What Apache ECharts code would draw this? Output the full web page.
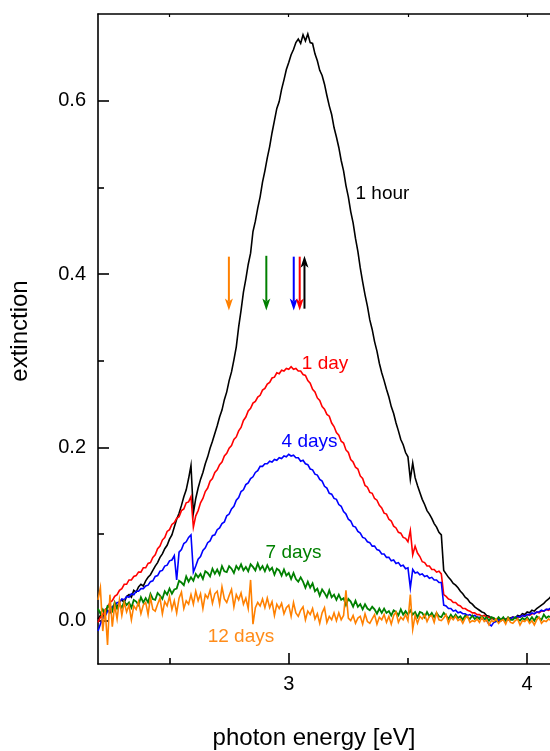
<!DOCTYPE html>
<html><head><meta charset="utf-8">
<script src="https://cdn.jsdelivr.net/npm/echarts@6/dist/echarts.min.js"></script>
<style>html,body{margin:0;padding:0;background:#fff}#c{width:550px;height:751px}</style>
</head><body><div id="c"></div>
<script>
const energy = [
2.20,2.21,2.22,2.23,2.24,2.25,2.26,2.27,2.28,2.29,
2.30,2.31,2.32,2.33,2.34,2.35,2.36,2.37,2.38,2.39,
2.40,2.41,2.42,2.43,2.44,2.45,2.46,2.47,2.48,2.49,
2.50,2.51,2.52,2.53,2.54,2.55,2.56,2.57,2.58,2.59,
2.60,2.61,2.62,2.63,2.64,2.65,2.66,2.67,2.68,2.69,
2.70,2.71,2.72,2.73,2.74,2.75,2.76,2.77,2.78,2.79,
2.80,2.81,2.82,2.83,2.84,2.85,2.86,2.87,2.88,2.89,
2.90,2.91,2.92,2.93,2.94,2.95,2.96,2.97,2.98,2.99,
3.00,3.01,3.02,3.03,3.04,3.05,3.06,3.07,3.08,3.09,
3.10,3.11,3.12,3.13,3.14,3.15,3.16,3.17,3.18,3.19,
3.20,3.21,3.22,3.23,3.24,3.25,3.26,3.27,3.28,3.29,
3.30,3.31,3.32,3.33,3.34,3.35,3.36,3.37,3.38,3.39,
3.40,3.41,3.42,3.43,3.44,3.45,3.46,3.47,3.48,3.49,
3.50,3.51,3.52,3.53,3.54,3.55,3.56,3.57,3.58,3.59,
3.60,3.61,3.62,3.63,3.64,3.65,3.66,3.67,3.68,3.69,
3.70,3.71,3.72,3.73,3.74,3.75,3.76,3.77,3.78,3.79,
3.80,3.81,3.82,3.83,3.84,3.85,3.86,3.87,3.88,3.89,
3.90,3.91,3.92,3.93,3.94,3.95,3.96,3.97,3.98,3.99,
4.00,4.01,4.02,4.03,4.04,4.05,4.06,4.07,4.08,4.09,
4.10];

const hour1 = [
0.002,0.006,0.003,0.010,0.012,0.009,0.016,0.018,0.015,0.022,
0.024,0.021,0.028,0.030,0.027,0.035,0.033,0.039,0.042,0.040,
0.046,0.050,0.053,0.058,0.063,0.067,0.073,0.077,0.083,0.087,
0.094,0.099,0.108,0.117,0.124,0.133,0.143,0.151,0.164,0.179,
0.124,0.141,0.153,0.163,0.171,0.181,0.189,0.199,0.207,0.216,
0.225,0.235,0.243,0.255,0.264,0.277,0.287,0.301,0.316,0.339,
0.358,0.379,0.394,0.411,0.424,0.449,0.461,0.476,0.489,0.506,
0.519,0.534,0.547,0.563,0.577,0.591,0.599,0.613,0.624,0.636,
0.644,0.653,0.659,0.667,0.671,0.666,0.676,0.669,0.677,0.667,
0.666,0.654,0.646,0.635,0.629,0.619,0.606,0.594,0.584,0.569,
0.558,0.546,0.531,0.519,0.502,0.489,0.472,0.459,0.441,0.426,
0.407,0.391,0.376,0.363,0.347,0.336,0.322,0.311,0.297,0.286,
0.277,0.267,0.258,0.247,0.239,0.228,0.219,0.209,0.203,0.194,
0.189,0.163,0.182,0.165,0.156,0.148,0.140,0.134,0.127,0.123,
0.118,0.112,0.108,0.102,0.099,0.058,0.054,0.050,0.047,0.043,
0.041,0.038,0.034,0.031,0.027,0.025,0.021,0.019,0.016,0.014,
0.012,0.010,0.009,0.006,0.005,0.003,0.002,0.000,-0.001,0.000,
0.001,0.002,0.001,0.003,0.004,0.003,0.006,0.005,0.008,0.007,
0.010,0.009,0.012,0.011,0.014,0.016,0.018,0.020,0.023,0.025,
0.028];

const day1 = [
-0.002,0.004,0.007,0.013,0.015,0.021,0.023,0.028,0.030,0.035,
0.037,0.042,0.042,0.047,0.047,0.051,0.052,0.056,0.056,0.061,
0.061,0.066,0.067,0.073,0.076,0.083,0.086,0.093,0.096,0.103,
0.105,0.111,0.113,0.118,0.120,0.127,0.129,0.136,0.137,0.143,
0.108,0.121,0.127,0.136,0.141,0.149,0.153,0.161,0.164,0.171,
0.174,0.180,0.183,0.190,0.193,0.199,0.202,0.209,0.212,0.219,
0.223,0.231,0.235,0.242,0.245,0.251,0.253,0.258,0.260,0.266,
0.268,0.273,0.275,0.280,0.281,0.286,0.285,0.289,0.288,0.291,
0.290,0.293,0.290,0.291,0.288,0.288,0.284,0.283,0.277,0.274,
0.267,0.264,0.257,0.254,0.247,0.244,0.238,0.236,0.228,0.224,
0.217,0.214,0.207,0.205,0.197,0.194,0.186,0.183,0.177,0.175,
0.167,0.164,0.156,0.154,0.148,0.147,0.141,0.139,0.133,0.130,
0.124,0.123,0.117,0.115,0.109,0.107,0.102,0.101,0.096,0.095,
0.091,0.104,0.076,0.086,0.078,0.074,0.068,0.067,0.063,0.063,
0.059,0.059,0.056,0.057,0.054,0.030,0.028,0.025,0.024,0.021,
0.021,0.018,0.017,0.014,0.014,0.012,0.011,0.009,0.009,0.007,
0.007,0.005,0.006,0.004,0.004,0.002,0.003,0.001,0.002,0.001,
0.002,0.002,0.003,0.002,0.004,0.003,0.004,0.004,0.006,0.005,
0.007,0.006,0.008,0.008,0.010,0.009,0.011,0.011,0.013,0.012,
0.014];

const days4 = [
-0.012,-0.004,0.003,0.005,0.011,0.011,0.016,0.017,0.021,0.021,
0.025,0.024,0.028,0.027,0.031,0.030,0.034,0.034,0.037,0.037,
0.040,0.041,0.045,0.046,0.051,0.052,0.057,0.058,0.063,0.064,
0.069,0.070,0.075,0.047,0.079,0.082,0.089,0.091,0.096,0.099,
0.056,0.063,0.071,0.074,0.081,0.084,0.090,0.092,0.098,0.099,
0.105,0.107,0.112,0.114,0.121,0.123,0.129,0.132,0.139,0.142,
0.149,0.151,0.157,0.159,0.164,0.166,0.171,0.173,0.178,0.178,
0.181,0.181,0.184,0.183,0.186,0.185,0.188,0.187,0.190,0.189,
0.192,0.190,0.191,0.188,0.188,0.184,0.185,0.181,0.180,0.175,
0.174,0.169,0.168,0.163,0.161,0.155,0.153,0.147,0.146,0.141,
0.140,0.134,0.132,0.126,0.123,0.117,0.115,0.109,0.108,0.103,
0.101,0.096,0.095,0.091,0.090,0.086,0.086,0.082,0.081,0.077,
0.077,0.073,0.073,0.069,0.070,0.066,0.067,0.063,0.064,0.060,
0.061,0.038,0.059,0.055,0.056,0.053,0.054,0.051,0.052,0.049,
0.050,0.047,0.047,0.044,0.044,0.018,0.017,0.014,0.014,0.011,
0.012,0.009,0.010,0.008,0.008,0.006,0.007,0.005,0.006,0.004,
0.004,0.002,0.002,0.000,-0.004,-0.006,-0.002,-0.001,0.001,0.001,
0.002,0.001,0.003,0.002,0.004,0.003,0.005,0.004,0.006,0.005,
0.007,0.007,0.009,0.008,0.010,0.010,0.012,0.011,0.013,0.013,
0.015];

const days7 = [
0.014,0.008,0.013,0.008,0.017,0.015,0.011,0.021,0.014,0.019,
0.015,0.022,0.018,0.021,0.015,0.024,0.022,0.018,0.027,0.021,
0.026,0.021,0.031,0.025,0.024,0.032,0.029,0.025,0.034,0.030,
0.037,0.031,0.036,0.037,0.046,0.044,0.041,0.051,0.045,0.050,
0.046,0.054,0.050,0.054,0.048,0.057,0.055,0.051,0.060,0.054,
0.059,0.053,0.063,0.057,0.056,0.063,0.060,0.055,0.063,0.059,
0.065,0.058,0.062,0.057,0.065,0.062,0.058,0.066,0.059,0.063,
0.057,0.064,0.058,0.061,0.053,0.060,0.058,0.052,0.059,0.052,
0.055,0.048,0.055,0.048,0.045,0.050,0.045,0.038,0.045,0.038,
0.043,0.034,0.037,0.029,0.036,0.032,0.027,0.035,0.027,0.030,
0.024,0.030,0.024,0.026,0.018,0.025,0.022,0.016,0.023,0.016,
0.019,0.013,0.019,0.014,0.012,0.016,0.013,0.008,0.014,0.009,
0.014,0.009,0.011,0.006,0.012,0.010,0.006,0.013,0.007,0.011,
0.007,0.012,0.007,0.010,0.004,0.010,0.009,0.004,0.010,0.005,
0.009,0.004,0.009,0.005,0.004,0.009,0.006,0.002,0.007,0.003,
0.007,0.003,0.005,0.001,0.006,0.004,0.002,0.006,0.002,0.004,
0.002,0.005,0.002,0.004,0.000,0.004,0.003,0.000,0.004,0.001,
0.004,0.000,0.004,0.001,0.001,0.004,0.002,0.000,0.003,0.001,
0.004,0.000,0.004,0.000,0.005,0.003,0.001,0.007,0.003,0.005,
0.004];

const days12 = [
0.024,0.038,-0.012,0.013,-0.028,0.030,-0.007,0.018,0.002,0.024,
0.006,0.021,0.010,0.018,0.001,0.017,0.013,0.022,0.008,0.018,
0.021,0.007,0.027,0.013,0.011,0.019,0.026,0.008,0.022,0.017,
0.028,0.013,0.023,0.009,0.026,0.033,0.014,0.023,0.019,0.030,
0.019,0.034,0.023,0.031,0.014,0.030,0.026,0.035,0.020,0.031,
0.034,0.019,0.039,0.025,0.021,0.029,0.036,0.016,0.030,0.024,
0.032,0.019,0.026,0.014,0.047,-0.004,0.015,0.021,0.017,0.025,
0.015,0.026,0.015,0.022,0.006,0.019,0.014,0.020,0.008,0.015,
0.018,0.005,0.021,0.009,0.005,0.012,0.016,0.001,0.011,0.007,
0.014,0.002,0.008,-0.003,0.009,0.015,-0.002,0.005,0.001,0.009,
0.000,0.009,0.001,0.006,0.035,0.003,0.000,0.006,-0.003,0.003,
0.005,-0.004,0.008,-0.001,-0.003,0.002,0.007,-0.004,0.004,0.001,
0.007,-0.002,0.005,-0.004,0.006,0.010,-0.002,0.004,0.001,0.007,
0.000,0.030,-0.010,0.006,-0.003,0.005,0.002,0.007,-0.001,0.005,
0.006,-0.002,0.009,0.001,0.000,0.003,0.007,-0.003,0.004,0.001,
0.005,0.000,0.002,-0.003,0.003,0.005,-0.002,0.000,-0.001,0.002,
-0.002,0.004,-0.001,0.001,-0.005,0.000,-0.001,0.002,-0.003,0.000,
0.001,-0.004,0.003,-0.002,-0.003,0.000,0.002,-0.005,0.000,-0.001,
0.002,-0.003,0.000,-0.005,0.001,0.004,-0.003,0.000,-0.001,0.002,
0.000];

const seriesNames = ['1 hour', '1 day', '4 days', '7 days', '12 days'];
const seriesColors = ['#000000', '#ff0000', '#0000ff', '#008000', '#ff8000'];
const seriesWidths = [1.6, 1.6, 1.6, 1.8, 1.6];
const seriesValues = [hour1, day1, days4, days7, days12];

// curve labels: [energy of left edge, extinction of text centre]
const labelEnergy = [3.28, 3.055, 2.97, 2.903, 2.66];
const labelExt = [0.493, 0.297, 0.206, 0.078, -0.019];

// arrows: energy, start, end
const arrowEnergy = [2.749, 2.906, 3.021, 3.046, 3.066];
const arrowFrom = [0.420, 0.421, 0.420, 0.420, 0.360];
const arrowTo = [0.358, 0.358, 0.358, 0.358, 0.421];
const arrowColors = ['#ff8000', '#008000', '#0000ff', '#ff0000', '#000000'];

const xLabelTicks = [3, 4];
const xMinorTicks = [2.5, 3.5];
const yLabelTicks = [0, 0.2, 0.4, 0.6];
const yMinorTicks = [0.1, 0.3, 0.5];

const FONT = 'Liberation Sans, Arial, Helvetica, sans-serif';
const chart = echarts.init(document.getElementById('c'), null, {renderer: 'canvas'});

const axisLineStyle = {color: '#000', width: 1.6};
const xBase = {type: 'value', min: 2.2, max: 4.1, splitLine: {show: false}, gridIndex: 0};
const yBase = {type: 'value', min: -0.05, max: 0.7, splitLine: {show: false}, gridIndex: 0};

const lineSeries = seriesValues.map((vals, k) => ({
  type: 'line', name: seriesNames[k], xAxisIndex: 0, yAxisIndex: 0,
  data: energy.map((e, i) => [e, vals[i]]),
  showSymbol: false, symbol: 'none', smooth: false,
  lineStyle: {color: seriesColors[k], width: seriesWidths[k], join: 'miter'},
  itemStyle: {color: seriesColors[k]},
  z: 2 + k, animation: false, clip: true
}));

const arrowSeries = {
  type: 'custom', xAxisIndex: 0, yAxisIndex: 0, z: 10, animation: false, clip: false,
  data: arrowEnergy.map((e, i) => [e, arrowFrom[i], arrowTo[i]]),
  encode: {x: 0, y: [1, 2]},
  renderItem: function (params, api) {
    const p0 = api.coord([api.value(0), api.value(1)]);
    const p1 = api.coord([api.value(0), api.value(2)]);
    const color = arrowColors[params.dataIndex];
    const dir = p1[1] > p0[1] ? 1 : -1;
    const L = 12, W = 4;
    const x = p0[0];
    const tipY = p1[1];
    const baseY = tipY - dir * L;
    return {
      type: 'group',
      children: [
        {type: 'line', shape: {x1: x, y1: p0[1], x2: x, y2: baseY + dir * 3}, style: {stroke: color, lineWidth: 2}},
        {type: 'polygon', shape: {points: [[x, tipY], [x - W, baseY], [x, baseY + dir * 3], [x + W, baseY]]}, style: {fill: color}}
      ]
    };
  }
};

chart.setOption({
  animation: false,
  backgroundColor: '#fff',
  grid: {left: 98, top: 14, right: -1, bottom: 87, outerBoundsMode: 'none', containLabel: false},
  xAxis: [
    Object.assign({}, xBase, {
      position: 'bottom',
      axisLine: {show: true, onZero: false, lineStyle: axisLineStyle},
      axisTick: {show: true, inside: true, length: 11, customValues: xLabelTicks, lineStyle: {color: '#000', width: 1.6}},
      axisLabel: {show: true, customValues: xLabelTicks, margin: 10, color: '#000', fontSize: 20, fontFamily: FONT, formatter: v => String(v)}
    }),
    Object.assign({}, xBase, {
      position: 'bottom',
      axisLine: {show: false, onZero: false},
      axisTick: {show: true, inside: true, length: 6, customValues: xMinorTicks, lineStyle: {color: '#000', width: 1.6}},
      axisLabel: {show: false}
    }),
    Object.assign({}, xBase, {
      position: 'top',
      axisLine: {show: true, onZero: false, lineStyle: axisLineStyle},
      axisTick: {show: true, inside: true, length: 3, customValues: [2.5, 3, 3.5, 4], lineStyle: {color: '#000', width: 1.2}},
      axisLabel: {show: false}
    })
  ],
  yAxis: [
    Object.assign({}, yBase, {
      position: 'left',
      axisLine: {show: true, onZero: false, lineStyle: axisLineStyle},
      axisTick: {show: true, inside: true, length: 11, customValues: yLabelTicks, lineStyle: {color: '#000', width: 1.6}},
      axisLabel: {show: true, customValues: yLabelTicks, margin: 12, color: '#000', fontSize: 20, fontFamily: FONT, formatter: v => Number(v).toFixed(1)}
    }),
    Object.assign({}, yBase, {
      position: 'left',
      axisLine: {show: false, onZero: false},
      axisTick: {show: true, inside: true, length: 6, customValues: yMinorTicks, lineStyle: {color: '#000', width: 1.6}},
      axisLabel: {show: false}
    })
  ],
  series: lineSeries.concat([arrowSeries])
});

// curve labels and axis titles
const graphics = [];
labelEnergy.forEach((e, i) => {
  const p = chart.convertToPixel({xAxisIndex: 0, yAxisIndex: 0}, [e, labelExt[i]]);
  graphics.push({
    type: 'text', x: p[0], y: p[1], z: 20, silent: true,
    style: {text: seriesNames[i], fill: seriesColors[i] === '#ff8000' ? '#ff8c1a' : seriesColors[i],
      font: '19px ' + FONT, align: 'left', verticalAlign: 'middle'}
  });
});
graphics.push({
  type: 'text', x: 314, y: 738, z: 20, silent: true,
  style: {text: 'photon energy [eV]', fill: '#000', font: '24px ' + FONT, align: 'center', verticalAlign: 'middle'}
});
graphics.push({
  type: 'text', x: 20, y: 331, rotation: Math.PI / 2, z: 20, silent: true,
  style: {text: 'extinction', fill: '#000', font: '24px ' + FONT, align: 'center', verticalAlign: 'middle'}
});
chart.setOption({graphic: graphics});
</script>
</body></html>
